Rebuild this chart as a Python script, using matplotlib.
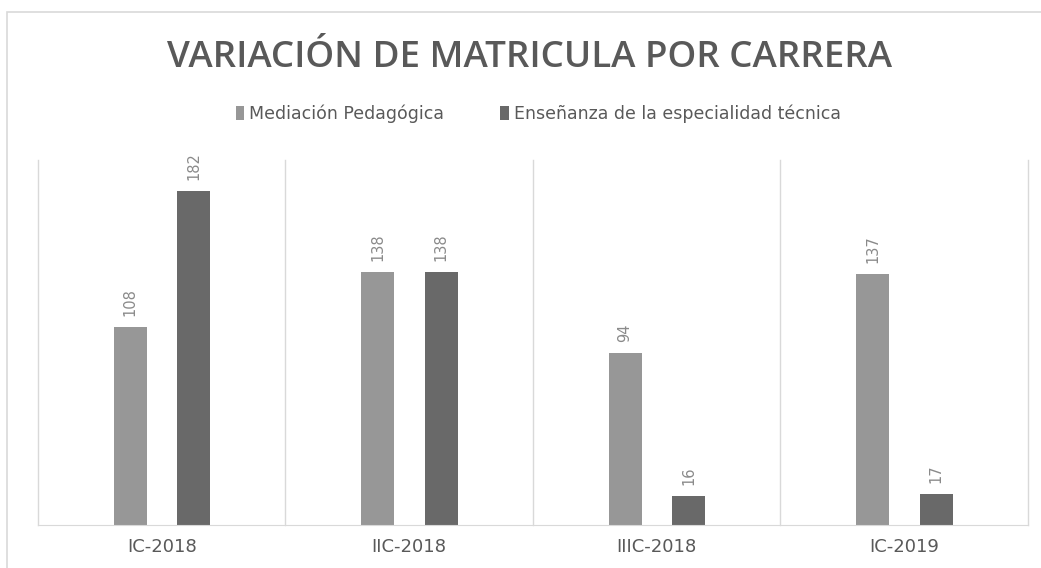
import matplotlib
matplotlib.use('Agg')
import matplotlib.pyplot as plt
import numpy as np
from matplotlib.patches import Rectangle

periods = ['IC-2018', 'IIC-2018', 'IIIC-2018', 'IC-2019']
mediacion = [108, 138, 94, 137]
ensenanza = [182, 138, 16, 17]
series_names = ['Mediación Pedagógica', 'Enseñanza de la especialidad técnica']

light = '#979797'
dark = '#696969'
text_c = '#595959'

fig = plt.figure(figsize=(10.41, 5.68), dpi=100)
fig.patches.append(Rectangle((0.007, -0.01), 1.0, 0.988, transform=fig.transFigure,
                             fill=False, edgecolor='#d9d9d9', lw=1.2))
ax = fig.add_axes([0.0365, 0.0757, 0.951, 0.642])

x = np.arange(len(periods))
w = 0.133
b1 = ax.bar(x - 0.128, mediacion, w, color=light, label=series_names[0])
b2 = ax.bar(x + 0.13, ensenanza, w, color=dark, label=series_names[1])

for bars in (b1, b2):
    for r in bars:
        ax.annotate(str(int(r.get_height())), (r.get_x() + r.get_width() / 2, r.get_height()),
                    xytext=(0, 8), textcoords='offset points', rotation=90,
                    ha='center', va='bottom', fontsize=10.5, color='#8a8a8a',
                    family='DejaVu Sans')

ax.set_xlim(-0.5, len(periods) - 0.5)
ax.set_ylim(0, 199)
ax.set_yticks([])
ax.set_xticks(x)
ax.set_xticklabels(periods, fontsize=13, color=text_c, family='DejaVu Sans')
ax.tick_params(axis='x', length=0, pad=9)
for s in ['top', 'right', 'left']:
    ax.spines[s].set_visible(False)
ax.spines['bottom'].set_color('#d9d9d9')
# separators between groups
for xv in np.arange(-0.5, len(periods), 1.0):
    ax.axvline(xv, color='#d9d9d9', lw=1, clip_on=False)

fig.text(0.509, 0.898, 'VARIACIÓN DE MATRICULA POR CARRERA', ha='center', va='center',
         fontsize=26.5, color=text_c, family='Open Sans', fontweight='semibold')
fig.legend(loc='center', bbox_to_anchor=(0.517, 0.8), ncol=2, frameon=False,
           labelcolor=text_c, handlelength=0.5, handleheight=0.9,
           handletextpad=0.3, columnspacing=3.2, prop={'family': 'DejaVu Sans', 'size': 12.5})

fig.savefig('out.png', dpi=100)
